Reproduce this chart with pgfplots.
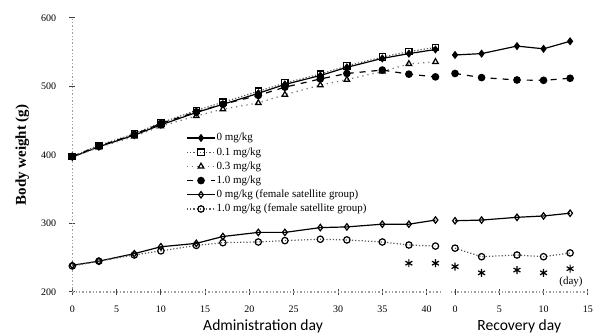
\documentclass[border=0pt]{standalone}
\usepackage{fontspec}
\setmainfont{Liberation Serif}
\newfontfamily\carlito{Carlito}
\usepackage{pgfplots}
\pgfplotsset{compat=1.18}
\begin{document}
\begin{tikzpicture}[x=1pt,y=1pt]
\useasboundingbox (0,0) rectangle (297.5,167.5);
\pgfplotsset{
  common/.style={
    scale only axis, clip=false,
    height=137pt, ymin=200, ymax=600,
    axis line style={gray!75, line width=0.7pt, densely dotted, -},
    tick style={black!75, line width=0.5pt, solid},
    tick align=center, major tick length=3pt,
    tick label style={font=\fontsize{5}{6}\selectfont},
    xticklabel style={yshift=-2pt},
    /pgf/number format/assume math mode=true,
    every axis plot/.append style={line width=0.6pt, mark size=1.6pt},
    legend image code/.code={\draw[mark repeat=2, mark phase=2, ##1] plot coordinates {(0pt,0pt) (7pt,0pt) (14pt,0pt)};},
  },
  s0/.style={black, solid, mark=diamond*, mark options={solid, fill=black}},
  s01/.style={black!65, densely dotted, mark=square, mark options={solid, black, fill=white}},
  s03/.style={black!55, dotted, mark=triangle, mark options={solid, black, fill=white}},
  s10/.style={black, dashed, mark=*, mark options={solid, fill=black}},
  f0/.style={black, solid, mark=diamond, mark options={solid, fill=white}},
  f10/.style={black!65, densely dotted, mark=o, mark options={solid, black, fill=white}},
  star/.style={only marks, black, mark=asterisk, mark size=2pt, line width=0.6pt},
}
\begin{axis}[common, at={(36.15pt,21.5pt)}, anchor=south west, width=183.8pt,
  xmin=0, xmax=41.5, axis x line*=bottom, axis y line*=left,
  xtick={0,5,...,40}, ytick={200,300,...,600},
  yticklabel style={xshift=-3pt},
  xlabel={Administration day},
  xlabel style={at={(axis description cs:0.519,0)}, anchor=center, yshift=-17pt, font=\carlito\fontsize{7.8}{9}\selectfont},
  ylabel={Body weight (g)},
  ylabel style={at={(axis description cs:-0.136,0.5)}, anchor=center, font=\bfseries\fontsize{7.5}{9}\selectfont},
  legend cell align=left,
  legend style={at={(axis description cs:0.293,0.6)}, anchor=north west, draw=none, fill=none,
    font=\fontsize{5.5}{6}\selectfont, nodes={inner sep=0.5pt, text height=4pt, text depth=1pt}, row sep=1.1pt},
]
\addplot[s0] coordinates {(0,397) (3,412) (7,429) (10,444) (14,462) (17,474) (21,490) (24,503) (28,516) (31,528) (35,541) (38,548) (41,554)};
\addlegendentry{0 mg/kg}
\addplot[s01] coordinates {(0,398) (3,414) (7,431) (10,447) (14,465) (17,477) (21,493) (24,505) (28,518) (31,530) (35,543) (38,551) (41,557)};
\addlegendentry{0.1 mg/kg}
\addplot[s03] coordinates {(0,397) (3,411) (7,427) (10,442) (14,457) (17,467) (21,476) (24,488) (28,502) (31,510) (35,522) (38,533) (41,536)};
\addlegendentry{0.3 mg/kg}
\addplot[s10] coordinates {(0,398) (3,413) (7,430) (10,446) (14,463) (17,474) (21,487) (24,499) (28,511) (31,519) (35,524) (38,518) (41,514)};
\addlegendentry{1.0 mg/kg}
\addplot[f0] coordinates {(0,239) (3,245) (7,256) (10,266) (14,271) (17,281) (21,287) (24,287) (28,294) (31,295) (35,299) (38,299) (41,305)};
\addlegendentry{0 mg/kg (female satellite group)}
\addplot[f10] coordinates {(0,238) (3,245) (7,254) (10,260) (14,268) (17,272) (21,273) (24,275) (28,277) (31,276) (35,273) (38,268.6) (41,267)};
\addlegendentry{1.0 mg/kg (female satellite group)}
\addplot[star, forget plot] coordinates {(38,242) (41,242)};
\end{axis}
\begin{axis}[common, at={(225.3pt,21.5pt)}, anchor=south west, width=68.6pt,
  xmin=-0.5, xmax=15, axis x line*=bottom, axis y line=none, ytick=\empty,
  xtick={0,5,10,15},
  xlabel={Recovery day},
  xlabel style={at={(axis description cs:0.5,0)}, anchor=center, yshift=-17pt, font=\carlito\fontsize{7.8}{9}\selectfont},
]
\addplot[s0] coordinates {(0,546) (3,548) (7,559) (10,555) (13,566)};
\addplot[s10] coordinates {(0,519) (3,513) (7,509.5) (10,509) (13,512)};
\addplot[f0] coordinates {(0,304) (3,305) (7,309) (10,311) (13,315)};
\addplot[f10] coordinates {(0,264) (3,251.5) (7,254) (10,251.5) (13,257)};
\addplot[star] coordinates {(0,237) (3,228) (7,232) (10,228) (13,234)};
\node[font=\fontsize{5.5}{6}\selectfont] at (axis cs:13.1,215) {(day)};
\end{axis}
\end{tikzpicture}
\end{document}
